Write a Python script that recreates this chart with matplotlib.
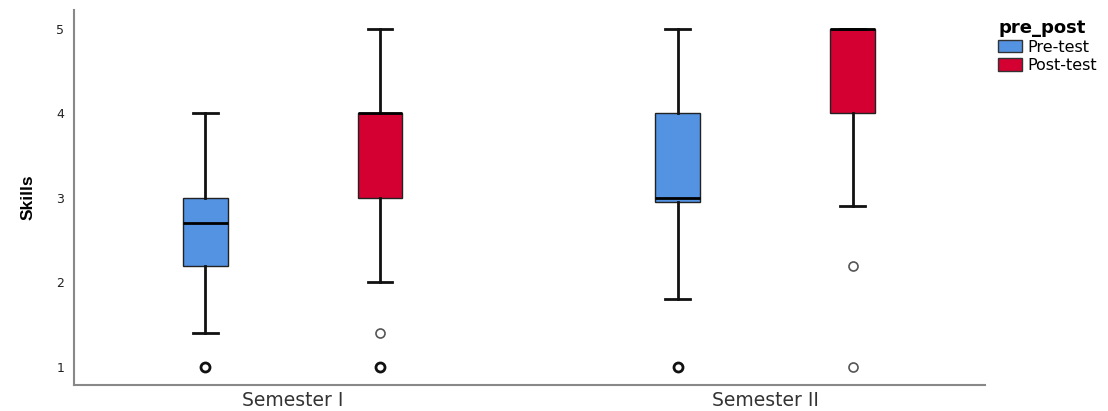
import matplotlib.pyplot as plt
from matplotlib.patches import Patch

plt.rcParams['font.family'] = ['DejaVu Sans']

semesters = ["Semester I", "Semester II"]
groups = ["Pre-test", "Post-test"]
colors = ["#5393e2", "#d50032"]

# five-number summaries per semester, in order pre-test, post-test
whislo = [[1.4, 2.0], [1.8, 2.9]]
q1 = [[2.2, 3.0], [2.95, 4.0]]
med = [[2.7, 4.0], [3.0, 5.0]]
q3 = [[3.0, 4.0], [4.0, 5.0]]
whishi = [[4.0, 5.0], [5.0, 5.0]]
fliers = [[[1.0], [1.4, 1.0]], [[1.0], [2.2, 1.0]]]
# number of cases sitting on each outlier value
flier_counts = [[[3], [1, 3]], [[3], [1, 1]]]

group_pos = [1, 3]
offset = 0.37
box_w = 0.19

fig = plt.figure(figsize=(11.08, 4.11), dpi=100)
ax = fig.add_axes([0.0668, 0.0633, 0.8222, 0.9124])

for i, gp in enumerate(group_pos):
    for j, grp in enumerate(groups):
        stats = [dict(med=med[i][j], q1=q1[i][j], q3=q3[i][j],
                      whislo=whislo[i][j], whishi=whishi[i][j], fliers=[])]
        pos = gp + (j - 0.5) * 2 * offset
        ax.bxp(stats, positions=[pos], widths=box_w, patch_artist=True,
               boxprops=dict(facecolor=colors[j], edgecolor="#222222", linewidth=1.0),
               medianprops=dict(color="black", linewidth=2.0),
               whiskerprops=dict(color="#111111", linewidth=2.0),
               capprops=dict(color="#111111", linewidth=2.0),
               capwidths=box_w * 0.55)
        for v, n in zip(fliers[i][j], flier_counts[i][j]):
            bold = n > 1
            ax.plot([pos], [v], marker="o", linestyle="none", markersize=6.5,
                    markerfacecolor="white",
                    markeredgecolor="#111111" if bold else "#555555",
                    markeredgewidth=2.0 if bold else 1.2)

ax.set_xlim(0.075, 3.93)
ax.set_ylim(0.787, 5.225)
ax.set_xticks(group_pos)
ax.set_xticklabels(semesters, fontsize=13.5, color="#333333")
ax.set_yticks([1, 2, 3, 4, 5])
ax.tick_params(axis="y", length=0, labelsize=9, pad=7, labelcolor="#222222")
ax.tick_params(axis="x", length=0, pad=4)
ax.set_ylabel("Skills", fontsize=12.5, fontweight="bold", labelpad=15,
              family=["Liberation Sans Narrow", "Liberation Sans"])

for side in ["top", "right"]:
    ax.spines[side].set_visible(False)
for side in ["left", "bottom"]:
    ax.spines[side].set_color("#888888")
    ax.spines[side].set_linewidth(1.5)

handles = [Patch(facecolor=c, edgecolor="#333333", label=g) for c, g in zip(colors, groups)]
leg = fig.legend(handles=handles, title="pre_post", loc="upper left",
                 bbox_to_anchor=(0.895, 0.97), frameon=False, fontsize=11.5,
                 title_fontproperties=dict(weight="bold", size=13),
                 handlelength=1.5, handleheight=0.8, handletextpad=0.35,
                 labelspacing=0.2, borderaxespad=0)
leg._legend_box.align = "left"

fig.savefig("out.png", dpi=100)
